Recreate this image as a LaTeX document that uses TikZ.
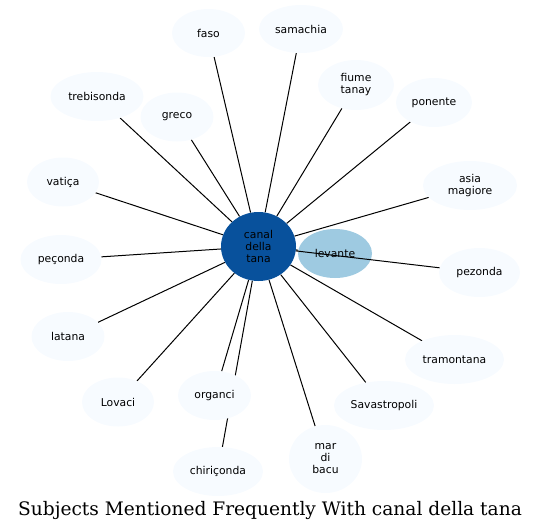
\documentclass[tikz,border=0pt]{standalone}
\usepackage{fontspec}
\usepackage{tikz}
\usetikzlibrary{shapes.geometric,backgrounds}
\newfontfamily\nodefont{DejaVu Sans}
\newfontfamily\titlefont{DejaVu Serif}
\definecolor{hubblue}{RGB}{8,81,156}
\definecolor{midblue}{RGB}{158,202,225}
\definecolor{paleblue}{RGB}{247,251,255}
\tikzset{
  subj/.style={ellipse,fill=paleblue,inner sep=0pt,align=center,
    font=\nodefont\fontsize{10.8}{12}\selectfont},
  link/.style={line width=1pt}
}
\begin{document}
\begin{tikzpicture}[x=1pt,y=-1pt]
\useasboundingbox (0,0) rectangle (541,531);

\node[subj,fill=hubblue,minimum width=75pt,minimum height=69pt] (canal) at (258.5,246.5) {canal\\della\\tana};
\node[subj,fill=midblue,minimum width=74pt,minimum height=49pt] (levante) at (335,253.5) {levante};

\node[subj,minimum width=73pt,minimum height=48pt] (faso) at (208.5,33) {faso};
\node[subj,minimum width=84pt,minimum height=48pt] (samachia) at (301,29) {samachia};
\node[subj,minimum width=76pt,minimum height=50pt] (fiume) at (356,85) {fiume\\tanay};
\node[subj,minimum width=76pt,minimum height=49pt] (ponente) at (434,102.5) {ponente};
\node[subj,minimum width=93pt,minimum height=49pt] (trebisonda) at (97,96.5) {trebisonda};
\node[subj,minimum width=73pt,minimum height=49pt] (greco) at (177,117) {greco};
\node[subj,minimum width=72pt,minimum height=49pt] (vatica) at (63,182) {vatiça};
\node[subj,minimum width=94pt,minimum height=49pt] (asia) at (470,185.5) {asia\\magiore};
\node[subj,minimum width=81pt,minimum height=49pt] (peconda) at (61,259.5) {peçonda};
\node[subj,minimum width=81pt,minimum height=49pt] (pezonda) at (479.5,272.5) {pezonda};
\node[subj,minimum width=73pt,minimum height=49pt] (latana) at (68,336.5) {latana};
\node[subj,minimum width=72pt,minimum height=49pt] (lovaci) at (118,402) {Lovaci};
\node[subj,minimum width=73pt,minimum height=49pt] (organci) at (214.5,395.5) {organci};
\node[subj,minimum width=99pt,minimum height=49pt] (tramontana) at (454.5,359.5) {tramontana};
\node[subj,minimum width=100pt,minimum height=49pt] (savastropoli) at (384,405.5) {Savastropoli};
\node[subj,minimum width=73pt,minimum height=68pt] (mardibacu) at (325.5,459) {mar\\di\\bacu};
\node[subj,minimum width=90pt,minimum height=49pt] (chiriconda) at (218,471.5) {chiriçonda};

\begin{scope}[on background layer]
\draw [link](canal) -- (faso);
\draw [link](canal) -- (samachia);
\draw [link](canal) -- (fiume);
\draw [link](canal) -- (ponente);
\draw [link](canal) -- (trebisonda);
\draw [link](canal) -- (greco);
\draw [link](canal) -- (vatica);
\draw [link](canal) -- (asia);
\draw [link](canal) -- (peconda);
\draw [link](canal) -- (latana);
\draw [link](canal) -- (lovaci);
\draw [link](canal) -- (organci);
\draw [link](canal) -- (chiriconda);
\draw [link](canal) -- (mardibacu);
\draw [link](canal) -- (savastropoli);
\draw [link](canal) -- (tramontana);
\draw [link](canal) -- (levante);
\end{scope}
% this one runs over levante
\draw [link](canal) -- (pezonda);

\node[font=\titlefont\fontsize{18.6}{22}\selectfont] (title) at (270,510) {Subjects Mentioned Frequently With canal della tana};
\end{tikzpicture}
\end{document}
